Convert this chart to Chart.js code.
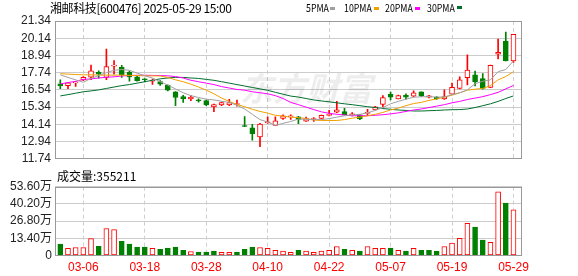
<!DOCTYPE html>
<html><head><meta charset="utf-8">
<script src="https://cdn.jsdelivr.net/npm/chart.js@4.4.1/dist/chart.umd.min.js"></script>
<style>
html,body{margin:0;padding:0;background:#fff;width:578px;height:276px;overflow:hidden;}
#wrap{position:relative;width:578px;height:276px;}
canvas{position:absolute;left:0;}
.t{position:absolute;white-space:nowrap;font-family:"Noto Sans CJK SC","Liberation Sans",sans-serif;color:#000;line-height:1;}
.lg{transform:scaleX(0.8);transform-origin:0 0;font-size:11px;}
.m{position:absolute;width:5px;height:3px;}
</style></head><body>
<div id="wrap">
<canvas id="k" width="578" height="170" style="top:0px"></canvas>
<canvas id="v" width="578" height="106" style="top:170px"></canvas>
<div class="t" style="left:50px;top:2px;font-size:12px;letter-spacing:-0.4px;">湘邮科技[600476] 2025-05-29 15:00</div>
<div class="t lg" style="left:306px;top:2px;">5PMA</div><div class="m" style="left:330px;top:7px;background:#a0a0a0"></div>
<div class="t lg" style="left:344px;top:2px;">10PMA</div><div class="m" style="left:374px;top:7px;background:#f0a000"></div>
<div class="t lg" style="left:385px;top:2px;">20PMA</div><div class="m" style="left:415px;top:7px;background:#ff00ff"></div>
<div class="t lg" style="left:427px;top:2px;">30PMA</div><div class="m" style="left:457px;top:6px;background:#006f2e"></div>
<div class="t" style="left:57px;top:170px;font-size:12px;">成交量:355211</div>
</div>
<script>
const dates = ["03-03","03-04","03-05","03-06","03-07","03-10","03-11","03-12","03-13","03-14","03-17","03-18","03-19","03-20","03-21","03-24","03-25","03-26","03-27","03-28","03-31","04-01","04-02","04-03","04-07","04-08","04-09","04-10","04-11","04-14","04-15","04-16","04-17","04-18","04-21","04-22","04-23","04-24","04-25","04-28","04-29","04-30","05-06","05-07","05-08","05-09","05-12","05-13","05-14","05-15","05-16","05-19","05-20","05-21","05-22","05-23","05-26","05-27","05-28","05-29"];
const xTickLabels = ["03-06","03-18","03-28","04-10","04-22","05-07","05-19","05-29"];
const priceTicks = [11.74,12.94,14.14,15.34,16.54,17.74,18.94,20.14,21.34];
const volTicks = [0,13.40,26.80,40.20,53.60];

const open  = [16.96,16.83,17.03,17.23,17.43,17.76,17.41,18.20,18.12,17.79,17.45,17.30,17.14,17.12,16.85,16.41,16.07,15.92,15.85,15.79,15.36,15.49,15.49,15.52,14.03,13.89,13.27,14.25,14.07,14.56,14.66,14.67,14.36,14.48,14.56,14.77,14.99,15.03,14.81,14.81,14.90,15.14,15.52,16.23,15.92,16.16,16.10,16.41,16.03,16.03,15.92,16.25,16.65,17.39,17.59,17.32,16.72,19.03,19.94,18.56];
const high  = [17.25,17.05,17.12,17.47,18.27,17.87,19.39,18.58,18.25,17.85,17.49,17.33,17.29,17.19,16.89,16.43,16.16,16.16,15.92,15.83,15.56,15.69,15.89,15.83,14.69,14.14,14.21,14.67,14.67,14.81,14.81,14.70,14.65,14.61,14.78,15.12,15.74,15.25,14.96,14.82,15.19,15.40,16.14,16.39,16.18,16.27,16.47,16.41,16.16,16.07,16.54,17.01,17.45,18.98,17.85,17.67,18.27,20.08,20.56,20.41];
const low   = [16.63,16.63,16.79,17.19,17.25,17.36,17.25,17.63,17.41,17.14,17.14,17.10,16.92,16.85,16.47,15.45,15.67,15.79,15.69,15.45,15.03,15.45,15.45,15.41,13.98,13.03,12.59,14.21,14.07,14.49,14.49,14.19,14.34,14.34,14.52,14.72,14.96,14.79,14.72,14.47,14.74,15.14,15.36,15.85,15.92,15.89,16.07,16.07,15.98,15.87,15.87,16.25,16.61,16.89,16.81,16.59,16.70,18.69,18.56,18.45];
const close = [16.81,17.03,17.06,17.41,17.87,17.63,18.16,18.25,17.59,17.45,17.19,17.25,17.23,16.94,16.52,16.01,15.92,16.03,15.78,15.49,15.52,15.65,15.65,15.59,13.99,13.49,14.16,14.28,14.39,14.74,14.72,14.49,14.54,14.52,14.76,14.82,15.16,14.79,14.85,14.52,14.95,15.36,16.01,16.03,16.14,16.03,16.34,16.14,16.12,15.92,16.07,16.72,17.25,17.92,17.09,16.65,18.25,19.16,18.56,20.41];

const ma5  = [17.59,17.41,17.24,17.07,17.34,17.54,17.74,17.91,17.96,17.91,17.71,17.52,17.37,17.11,16.87,16.61,16.34,16.14,16.01,15.89,15.84,15.75,15.67,15.47,15.21,14.84,14.47,14.30,14.07,14.21,14.34,14.51,14.49,14.47,14.47,14.54,14.64,14.74,14.79,14.84,14.94,15.11,15.31,15.57,15.74,15.89,16.03,16.06,16.07,16.04,16.04,16.21,16.34,16.54,16.97,17.14,17.24,17.81,17.96,18.56];
const ma10 = [17.67,17.64,17.61,17.59,17.59,17.57,17.57,17.57,17.57,17.55,17.54,17.52,17.52,17.51,17.41,17.24,17.11,16.94,16.74,16.52,16.27,15.97,15.74,15.52,15.37,15.19,15.04,14.92,14.77,14.71,14.64,14.61,14.54,14.44,14.41,14.41,14.41,14.47,14.57,14.64,14.74,14.84,14.97,15.14,15.27,15.44,15.59,15.67,15.81,15.91,16.04,16.17,16.34,16.52,16.59,16.64,16.84,17.24,17.47,17.81];
const ma20 = [16.96,17.05,17.14,17.27,17.31,17.37,17.42,17.45,17.51,17.54,17.56,17.56,17.55,17.54,17.52,17.47,17.37,17.21,17.11,17.01,16.91,16.77,16.67,16.57,16.52,16.41,16.34,16.27,16.14,15.94,15.67,15.51,15.34,15.17,15.01,14.91,14.84,14.79,14.74,14.74,14.74,14.77,14.81,14.87,14.94,15.04,15.14,15.21,15.31,15.41,15.51,15.64,15.74,15.87,15.97,16.07,16.21,16.37,16.61,16.85];
const ma30 = [16.12,16.21,16.31,16.41,16.47,16.54,16.64,16.74,16.84,16.91,17.01,17.11,17.21,17.31,17.37,17.41,17.41,17.37,17.34,17.27,17.21,17.11,17.01,16.91,16.81,16.71,16.61,16.51,16.37,16.24,16.11,16.04,15.94,15.84,15.77,15.71,15.64,15.57,15.51,15.44,15.37,15.31,15.24,15.19,15.14,15.11,15.07,15.07,15.09,15.11,15.14,15.16,15.17,15.21,15.31,15.44,15.57,15.74,15.94,16.12];

// volume in 万手 and direction (1 up / -1 down) as coloured in the picture
const volume = [8.8,5.5,6.2,6.2,13.2,7.2,21.0,20.2,11.1,8.8,6.5,6.5,5.5,4.9,5.8,6.5,4.1,3.1,2.6,2.6,3.4,2.4,2.4,2.6,4.9,6.5,6.2,5.5,4.0,3.4,2.4,4.1,3.4,2.4,3.4,4.1,7.0,4.9,4.0,3.4,7.0,5.5,5.5,5.8,4.0,3.4,5.5,4.1,4.1,3.4,7.0,9.6,13.4,25.1,22.2,12.1,10.3,49.6,40.8,35.52];
const volDir = [-1,1,1,1,1,-1,1,1,-1,-1,-1,-1,1,-1,-1,-1,-1,1,-1,-1,-1,1,1,-1,-1,-1,1,1,1,1,1,-1,1,1,1,1,1,-1,1,-1,1,1,1,-1,1,-1,1,-1,-1,-1,1,1,1,1,-1,-1,1,1,-1,1];

const RED = '#ff0000', GREEN = '#008000';
const xMin = -0.69, xMax = 60.11;
const xTickIdx = xTickLabels.map(l => dates.indexOf(l));
const up = close.map((c,i) => c >= open[i]);

const framePlugin = {
  id: 'frame',
  afterDatasetsDraw(chart) {
    const a = chart.chartArea, ctx = chart.ctx;
    ctx.save();
    ctx.strokeStyle = '#999';
    ctx.lineWidth = 1;
    ctx.strokeRect(Math.round(a.left) + 0.5, Math.round(a.top) + 0.5, Math.round(a.right - a.left) - 1, Math.round(a.bottom - a.top) - 1);
    ctx.restore();
  }
};
const watermark = {
  id: 'wm',
  beforeDatasetsDraw(chart) {
    const ctx = chart.ctx;
    ctx.save();
    ctx.fillStyle = 'rgba(0,0,0,0.07)';
    ctx.font = 'italic bold 33px "Noto Sans CJK SC"';
    ctx.textBaseline = 'alphabetic';
    ctx.fillText('东方财富', 240, 101);
    ctx.restore();
  }
};

function xScale(showLabels) {
  return {
    type: 'linear', min: xMin, max: xMax, offset: false,
    afterBuildTicks: s => { s.ticks = xTickIdx.map(v => ({value: v})); },
    afterFit: s => { s.height = showLabels ? 20.5 : 0; },
    grid: { color: '#cfcfcf', lineWidth: 1, drawTicks: false, offset: false },
    border: { display: false, dash: [4, 3] },
    ticks: {
      display: showLabels, autoSkip: false, maxRotation: 0, padding: 5,
      color: RED, font: { family: 'Liberation Sans', size: 12 },
      callback: v => dates[v]
    }
  };
}

Chart.defaults.animation = false;

new Chart(document.getElementById('k'), {
  data: {
    datasets: [
      { type: 'line', label: '5PMA', data: ma5.map((v,i)=>({x:i,y:v})), borderColor: '#a0a0a0', borderWidth: 1, pointRadius: 0, order: 0 },
      { type: 'line', label: '10PMA', data: ma10.map((v,i)=>({x:i,y:v})), borderColor: '#f0a000', borderWidth: 1, pointRadius: 0, order: 0 },
      { type: 'line', label: '20PMA', data: ma20.map((v,i)=>({x:i,y:v})), borderColor: '#ff00ff', borderWidth: 1, pointRadius: 0, order: 0 },
      { type: 'line', label: '30PMA', data: ma30.map((v,i)=>({x:i,y:v})), borderColor: '#006f2e', borderWidth: 1, pointRadius: 0, order: 0 },
      { type: 'bar', label: 'body', grouped: false, order: 1, barThickness: 5, minBarLength: 1, borderSkipped: false,
        data: open.map((o,i)=>({x:i, y:[o, close[i]]})),
        backgroundColor: up.map(u => u ? '#ffffff' : GREEN),
        borderColor: up.map(u => u ? RED : GREEN), borderWidth: 1 },
      { type: 'bar', label: 'wick', grouped: false, order: 2, barThickness: 1, borderWidth: 0,
        data: low.map((l,i)=>({x:i, y:[l, high[i]]})),
        backgroundColor: up.map(u => u ? RED : GREEN) }
    ]
  },
  options: {
    responsive: false, devicePixelRatio: 1,
    layout: { padding: { left: 0, right: 56, top: 21, bottom: 5 } },
    plugins: { legend: { display: false }, tooltip: { enabled: false } },
    scales: {
      x: xScale(false),
      y: {
        type: 'linear', min: 11.74, max: 21.34,
        afterBuildTicks: s => { s.ticks = priceTicks.map(v => ({value: v})); },
        afterFit: s => { s.width = 55; },
        grid: { color: '#cccccc', lineWidth: 1, drawTicks: false },
        border: { display: false },
        ticks: { autoSkip: false, padding: 4, color: '#222', font: { family: 'Liberation Sans', size: 12 }, callback: v => Number(v).toFixed(2) }
      }
    }
  },
  plugins: [watermark, framePlugin]
});

new Chart(document.getElementById('v'), {
  data: {
    datasets: [
      { type: 'bar', label: '成交量', grouped: false, barThickness: 5, borderSkipped: false,
        data: volume.map((v,i)=>({x:i, y:v})),
        backgroundColor: volDir.map(d => d > 0 ? '#ffffff' : GREEN),
        borderColor: volDir.map(d => d > 0 ? RED : GREEN), borderWidth: 1 }
    ]
  },
  options: {
    responsive: false, devicePixelRatio: 1,
    layout: { padding: { left: 0, right: 56, top: 16.7, bottom: 0 } },
    plugins: { legend: { display: false }, tooltip: { enabled: false } },
    scales: {
      x: xScale(true),
      y: {
        type: 'linear', min: 0, max: 53.6,
        afterBuildTicks: s => { s.ticks = volTicks.map(v => ({value: v})); },
        afterFit: s => { s.width = 55; },
        grid: { color: '#cccccc', lineWidth: 1, drawTicks: false },
        border: { display: false },
        ticks: { autoSkip: false, padding: 3, color: '#222', font: { family: "'Liberation Sans','Noto Sans CJK SC'", size: 12 },
          callback: v => v === 0 ? '0' : Number(v).toFixed(2) + '万' }
      }
    }
  },
  plugins: [framePlugin]
});
</script>
</body></html>
